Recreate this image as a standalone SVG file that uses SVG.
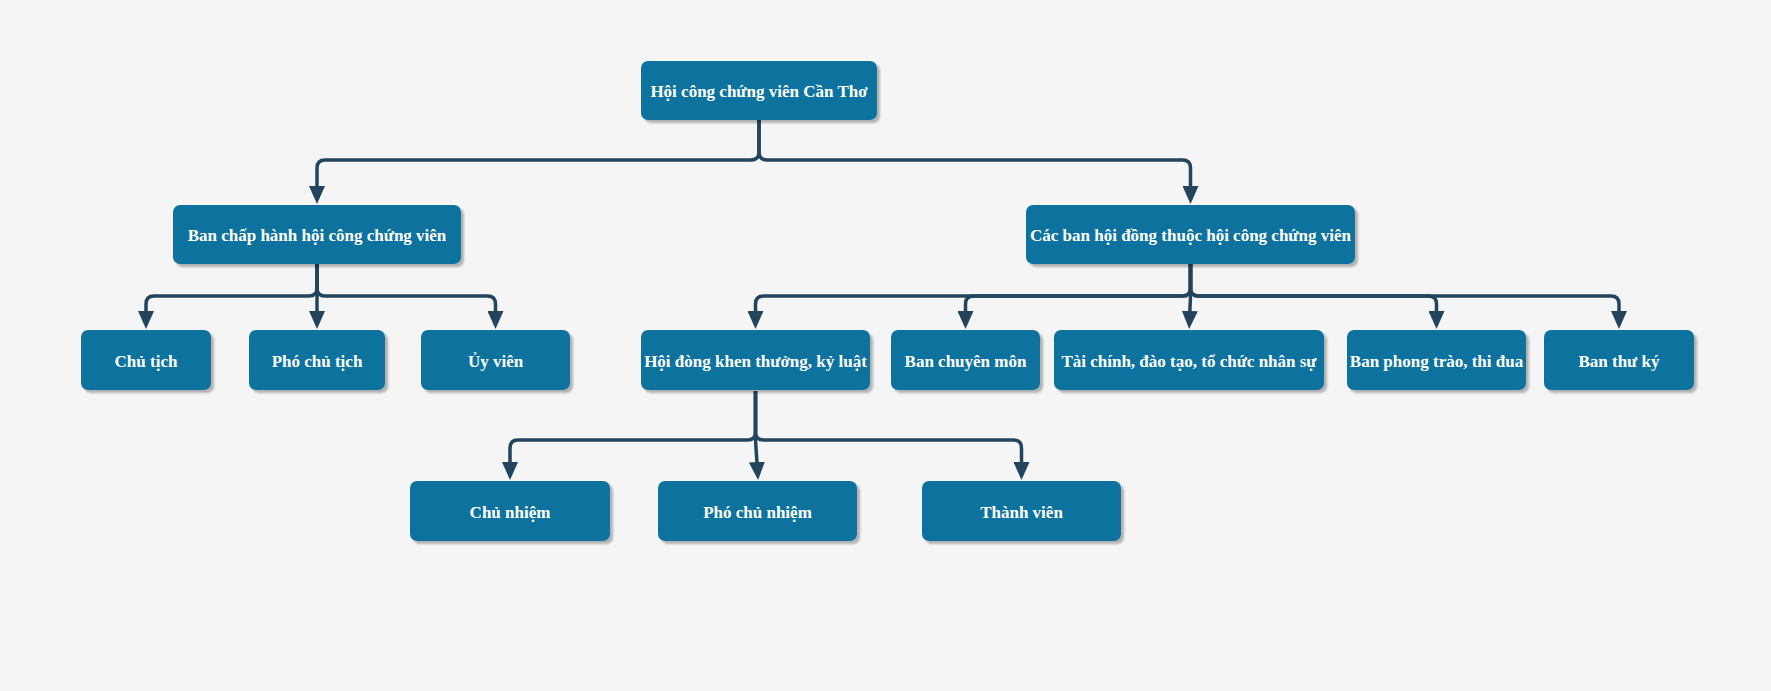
<svg xmlns="http://www.w3.org/2000/svg" width="1771" height="691" viewBox="0 0 1771 691">
<style>
.box{fill:#10739e;filter:url(#sh)}
.lbl{font-family:"Liberation Serif","Times New Roman",serif;font-weight:bold;font-size:17px;fill:#ffffff;text-anchor:middle}
.edge{fill:none;stroke:#23445d;stroke-width:3.5;marker-end:url(#arr)}
</style>
<defs>
<filter id="sh" x="-10%" y="-10%" width="130%" height="140%">
<feDropShadow dx="3" dy="3" stdDeviation="1" flood-color="#000" flood-opacity="0.28"/>
</filter>
<marker id="arr" viewBox="0 0 18 16" markerWidth="18" markerHeight="16" refX="9" refY="8" orient="auto" markerUnits="userSpaceOnUse">
<path d="M0,0 L18,8 L0,16 Z" fill="#23445d"/>
</marker>
</defs>
<rect x="0" y="0" width="1771" height="691" fill="#f5f5f5"/>
<g id="connectors">
<path class="edge" d="M759,120 V152 Q759,160 751,160 H325 Q317,160 317,168 V195"/>
<path class="edge" d="M759,120 V152 Q759,160 767,160 H1182.5 Q1190.5,160 1190.5,168 V195"/>
<path class="edge" d="M317,264 V288 Q317,296 309,296 H154 Q146,296 146,304 V320"/>
<path class="edge" d="M317,264 V320"/>
<path class="edge" d="M317,264 V288 Q317,296 325,296 H487.5 Q495.5,296 495.5,304 V320"/>
<path class="edge" d="M1190.5,264 V288 Q1190.5,296 1182.5,296 H763.5 Q755.5,296 755.5,304 V320"/>
<path class="edge" d="M1190.5,264 V288 Q1190.5,296 1182.5,296 H973.5 Q965.5,296 965.5,304 V320"/>
<path class="edge" d="M1190.5,264 V296 L1189.5,320"/>
<path class="edge" d="M1190.5,264 V288 Q1190.5,296 1198.5,296 H1428.5 Q1436.5,296 1436.5,304 V320"/>
<path class="edge" d="M1190.5,264 V288 Q1190.5,296 1198.5,296 H1611 Q1619,296 1619,304 V320"/>
<path class="edge" d="M755.5,391 V432 Q755.5,440 747.5,440 H518 Q510,440 510,448 V471"/>
<path class="edge" d="M755.5,391 V440 L757.5,471"/>
<path class="edge" d="M755.5,391 V432 Q755.5,440 763.5,440 H1013.5 Q1021.5,440 1021.5,448 V471"/>
</g>
<g id="root"><rect class="box" x="641" y="61" width="236" height="59" rx="7"/><text class="lbl" x="759" y="97">Hội công chứng viên Cần Thơ</text></g>
<g id="ban-chap-hanh"><rect class="box" x="173" y="205" width="288" height="59" rx="7"/><text class="lbl" x="317" y="241">Ban chấp hành hội công chứng viên</text></g>
<g id="cac-ban"><rect class="box" x="1026" y="205" width="329" height="59" rx="7"/><text class="lbl" x="1190.5" y="241">Các ban hội đồng thuộc hội công chứng viên</text></g>
<g id="chu-tich"><rect class="box" x="81" y="330" width="130" height="60" rx="7"/><text class="lbl" x="146" y="367">Chủ tịch</text></g>
<g id="pho-chu-tich"><rect class="box" x="249" y="330" width="136" height="60" rx="7"/><text class="lbl" x="317" y="367">Phó chủ tịch</text></g>
<g id="uy-vien"><rect class="box" x="421" y="330" width="149" height="60" rx="7"/><text class="lbl" x="495.5" y="367">Ủy viên</text></g>
<g id="hoi-dong"><rect class="box" x="641" y="330" width="229" height="60" rx="7"/><text class="lbl" x="755.5" y="367">Hội đòng khen thưởng, kỷ luật</text></g>
<g id="ban-chuyen-mon"><rect class="box" x="891" y="330" width="149" height="60" rx="7"/><text class="lbl" x="965.5" y="367">Ban chuyên môn</text></g>
<g id="tai-chinh"><rect class="box" x="1054" y="330" width="270" height="60" rx="7"/><text class="lbl" x="1189" y="367">Tài chính, đào tạo, tổ chức nhân sự</text></g>
<g id="ban-phong-trao"><rect class="box" x="1347" y="330" width="179" height="60" rx="7"/><text class="lbl" x="1436.5" y="367">Ban phong trào, thi đua</text></g>
<g id="ban-thu-ky"><rect class="box" x="1544" y="330" width="150" height="60" rx="7"/><text class="lbl" x="1619" y="367">Ban thư ký</text></g>
<g id="chu-nhiem"><rect class="box" x="410" y="481" width="200" height="60" rx="7"/><text class="lbl" x="510" y="518">Chủ nhiệm</text></g>
<g id="pho-chu-nhiem"><rect class="box" x="658" y="481" width="199" height="60" rx="7"/><text class="lbl" x="757.5" y="518">Phó chủ nhiệm</text></g>
<g id="thanh-vien"><rect class="box" x="922" y="481" width="199" height="60" rx="7"/><text class="lbl" x="1021.5" y="518">Thành viên</text></g>
</svg>
